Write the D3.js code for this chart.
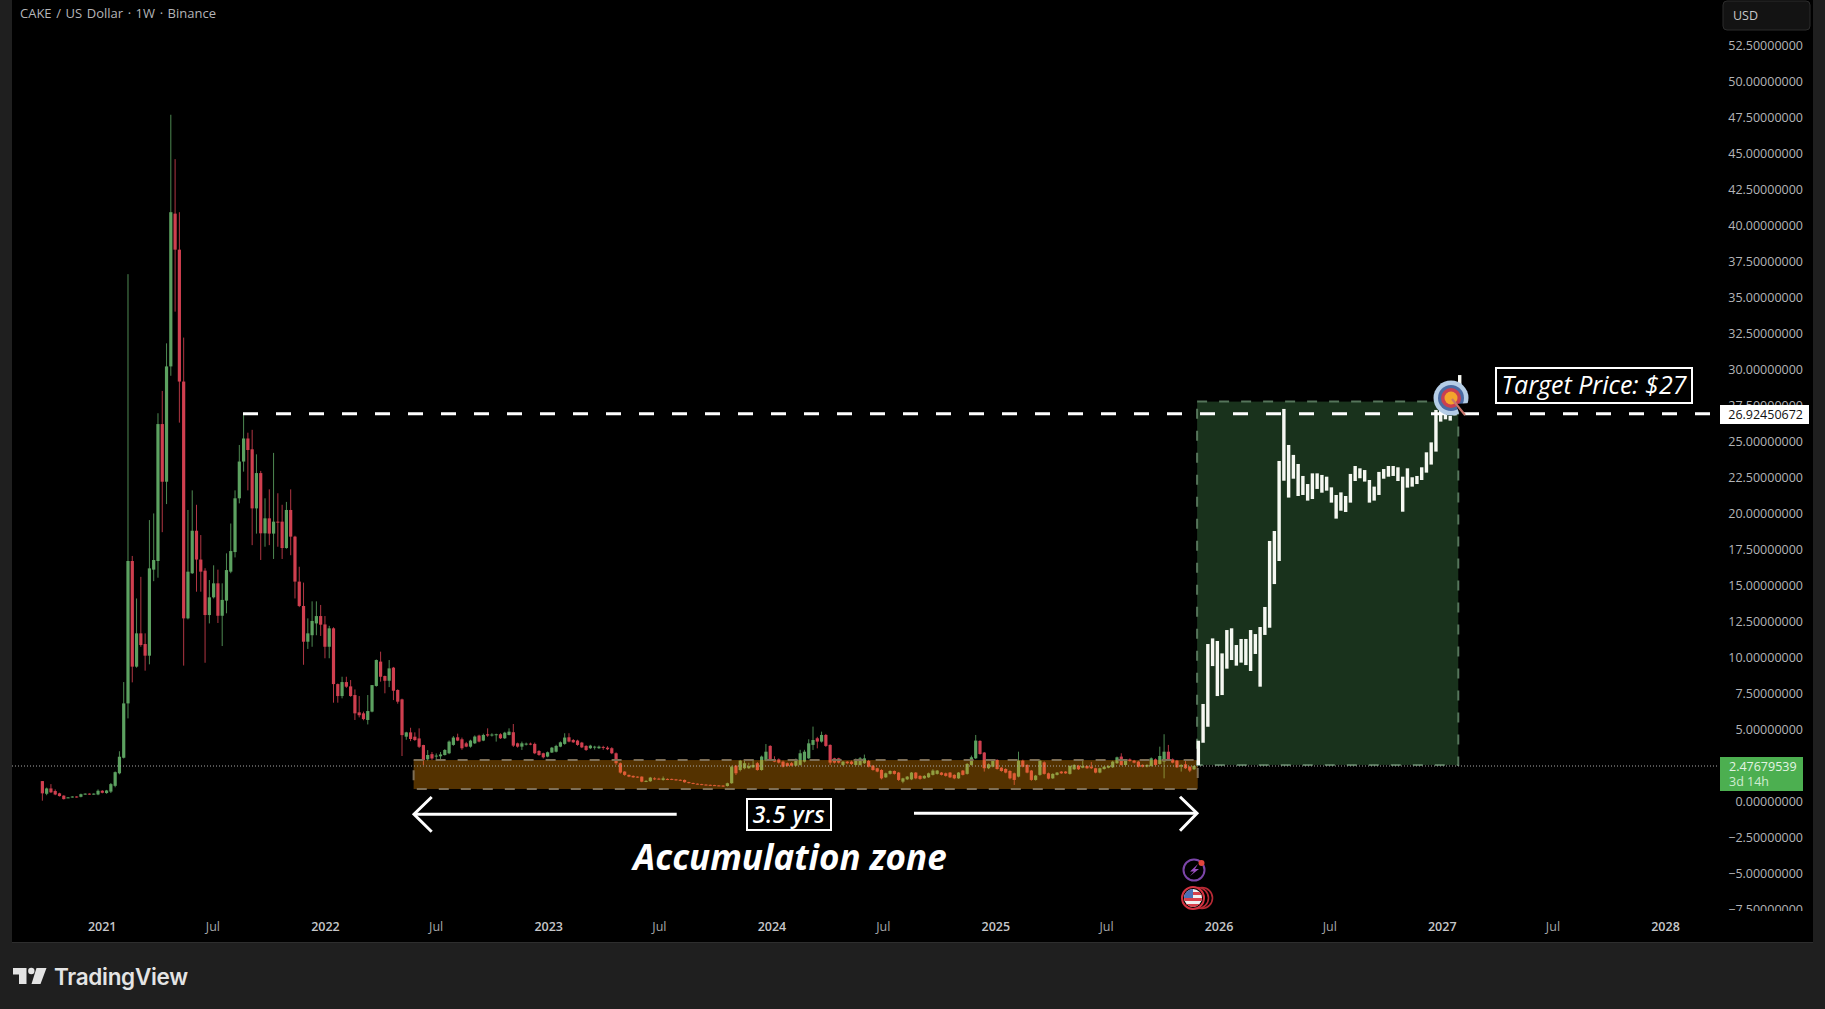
<!DOCTYPE html>
<html>
<head>
<meta charset="utf-8">
<script src="https://cdn.jsdelivr.net/npm/d3@7"></script>
<style>
  html, body { margin: 0; padding: 0; background: #1f1f1f; overflow: hidden; }
  text { font-family: "Open Sans", sans-serif; }
</style>
</head>
<body>
<div id="chart"></div>
<script>
// weekly candles from the first Binance week
const firstWeek = "2020-09-26";
const candleOpen = [
  1.43,.55,.92,.74,.58,.42,.28,.30,.36,.34,
  .50,.56,.50,.50,.76,.60,.70,1.10,1.97,3.05,
  6.82,16.70,9.37,11.68,10.94,10.13,16.10,16.70,26.20,22.20,
  30.20,40.80,38.30,29.15,12.72,15.85,18.80,16.80,16.03,12.95,
  14.18,15.15,12.90,13.95,15.96,17.32,21.05,23.60,25.20,24.45,
  20.35,22.80,18.62,19.66,18.60,19.43,19.43,17.60,20.24,18.39,
  15.27,13.58,11.10,11.55,12.37,12.88,12.30,10.75,12.03,8.16,
  7.33,8.30,8.00,7.40,6.20,6.13,5.67,6.25,8.03,9.72,
  8.72,8.39,9.30,7.75,7.10,4.51,4.81,4.51,4.39,3.93,
  2.94,3.30,3.13,3.15,3.24,3.36,3.94,4.47,4.33,4.05,
  3.82,4.05,4.59,4.24,4.68,4.59,4.61,4.68,4.40,4.63,
  4.82,4.05,3.82,3.98,4.03,4.01,3.52,3.36,3.13,3.41,
  3.47,3.82,4.01,4.47,4.28,4.24,4.10,3.87,3.71,3.78,
  3.71,3.80,3.75,3.71,3.36,2.67,2.09,1.86,1.79,1.74,
  1.74,1.39,1.42,1.62,1.60,1.51,1.58,1.58,1.55,1.52,
  1.51,1.36,1.30,1.25,1.22,1.19,1.17,1.15,1.13,1.12,
  1.09,1.28,2.50,2.20,2.32,2.32,2.39,2.67,2.20,2.85,
  3.87,2.94,2.94,2.78,2.67,2.67,2.50,2.55,2.78,3.01,
  3.94,4.40,4.17,4.63,3.94,3.01,3.01,2.55,2.78,2.78,
  2.55,2.55,2.67,2.83,2.50,2.32,2.20,1.69,1.93,2.13,
  2.02,1.39,1.55,1.55,2.02,1.79,1.62,1.69,1.86,1.93,
  2.02,1.97,2.02,1.86,1.62,2.16,1.93,2.55,3.01,4.22,
  3.41,2.32,2.43,2.90,2.36,2.27,2.13,1.97,1.74,2.85,
  2.55,2.16,1.51,1.86,2.73,1.97,1.62,1.86,2.09,2.09,
  1.93,2.25,2.50,2.36,2.48,2.43,2.32,2.02,2.27,2.36,
  2.39,2.67,3.13,2.55,2.94,2.85,2.78,2.55,2.43,2.48,
  2.94,2.62,2.78,3.47,2.94,2.85,2.43,2.60,2.43,2.25
];
const candleHigh = [
  1.43,.98,1.22,.85,.62,.45,.32,.38,.38,.56,
  .58,.58,.58,.85,.80,.82,1.30,2.10,3.50,8.30,
  36.60,17.05,14.10,15.60,11.68,19.54,20.00,26.95,28.50,31.80,
  47.66,44.58,40.90,32.20,20.24,21.60,20.60,18.50,16.20,15.38,
  16.40,16.10,15.15,17.23,19.30,21.60,24.75,26.95,25.60,25.80,
  24.10,22.95,21.05,21.67,24.20,21.40,20.60,20.80,21.67,18.45,
  16.30,15.20,12.72,13.90,13.90,13.65,12.88,12.20,12.10,8.20,
  8.67,8.67,8.44,7.79,7.33,6.25,7.40,8.09,9.87,10.41,
  8.75,9.83,9.35,7.80,7.15,4.85,5.13,4.81,5.09,3.95,
  3.58,3.45,3.35,3.45,3.65,4.25,4.55,4.72,4.45,4.15,
  4.30,4.60,4.65,4.72,5.09,4.75,4.72,4.75,4.85,5.09,
  5.39,4.10,4.17,4.10,4.10,4.10,3.58,3.40,3.48,3.80,
  3.95,4.18,4.75,4.75,4.35,4.30,4.15,3.92,3.95,3.88,
  3.90,3.88,3.85,3.78,3.42,2.72,2.12,1.88,1.82,1.76,
  1.76,1.50,1.72,1.70,1.66,1.75,1.62,1.60,1.58,1.55,
  1.54,1.38,1.32,1.27,1.24,1.21,1.19,1.17,1.15,1.14,
  1.32,2.50,2.55,2.90,2.95,2.70,2.95,2.75,3.20,4.00,
  3.92,3.15,3.00,2.85,2.72,2.75,3.00,3.60,3.60,4.33,
  5.21,4.50,4.86,4.70,3.98,3.05,3.05,2.82,2.82,2.85,
  3.00,3.10,3.27,2.90,2.55,2.36,2.25,2.02,2.18,2.17,
  2.06,1.66,1.78,2.06,2.06,1.84,1.84,2.02,2.25,2.20,
  2.06,2.02,2.06,1.90,2.06,2.20,2.68,3.20,4.63,4.26,
  3.45,2.66,2.96,2.95,2.40,2.32,2.18,2.02,3.47,2.92,
  2.60,2.20,1.86,2.92,2.80,2.02,1.97,2.06,2.13,2.13,
  2.52,2.60,2.55,2.94,2.52,2.76,2.36,2.36,2.47,2.52,
  2.84,3.13,3.36,2.96,3.00,2.90,2.84,2.60,2.60,3.07,
  3.00,3.82,4.68,3.94,3.00,2.90,2.60,2.85,2.48,2.52
];
const candleLow = [
  .07,.45,.60,.45,.36,.15,.25,.28,.28,.30,
  .48,.48,.48,.45,.58,.55,.60,1.00,1.90,3.00,
  5.78,8.28,9.30,10.75,9.09,9.53,15.30,15.54,18.70,20.65,
  29.55,34.00,26.30,9.44,12.65,15.80,14.57,14.57,9.64,12.37,
  14.10,12.40,10.80,13.07,15.85,16.95,20.70,22.90,21.60,17.80,
  18.60,16.77,17.69,17.80,16.84,17.69,16.84,17.55,17.10,14.10,
  13.50,9.50,10.60,10.75,11.55,11.50,9.95,9.95,6.87,6.87,
  7.17,7.90,7.28,5.67,5.85,5.65,5.36,6.20,7.98,8.33,
  7.52,7.95,7.05,6.80,3.17,4.30,4.20,4.22,3.72,2.54,
  2.85,2.90,2.95,2.90,3.20,3.30,3.88,4.20,3.60,3.78,
  3.75,4.00,4.12,4.20,4.50,4.52,4.17,4.35,4.35,4.60,
  3.80,3.75,3.59,3.90,3.92,3.30,3.18,3.00,3.08,3.38,
  3.42,3.78,3.95,4.12,4.08,3.88,3.72,3.52,3.65,3.62,
  3.66,3.60,3.58,3.30,2.55,1.95,1.80,1.70,1.66,1.66,
  1.35,1.36,1.38,1.50,1.52,1.46,1.50,1.50,1.46,1.44,
  1.32,1.27,1.22,1.19,1.15,1.13,1.12,1.10,1.08,1.02,
  1.05,1.24,1.85,2.10,2.25,2.28,2.33,2.15,2.15,2.80,
  2.85,2.74,2.65,2.38,2.42,2.45,2.45,2.50,2.72,2.95,
  3.59,3.70,4.10,3.80,2.55,2.65,2.65,2.48,2.60,2.55,
  2.50,2.50,2.62,2.38,2.15,2.04,1.55,1.65,1.88,1.88,
  1.44,1.28,1.50,1.50,1.56,1.52,1.58,1.65,1.82,1.88,
  1.82,1.74,1.64,1.56,1.58,1.82,1.88,2.50,2.96,3.26,
  2.09,2.26,2.38,2.22,2.08,1.97,1.55,1.16,1.69,2.38,
  1.97,1.45,1.46,1.80,1.88,1.55,1.58,1.82,1.93,1.93,
  1.88,2.20,2.20,2.32,2.28,2.27,1.97,1.97,2.22,2.32,
  2.34,2.62,2.50,2.50,2.78,2.66,2.38,2.38,2.38,2.43,
  2.50,2.57,1.62,2.85,2.66,2.34,2.09,2.27,2.05,2.20
];
const candleClose = [
  .58,.92,.65,.50,.39,.18,.30,.36,.30,.52,
  .56,.50,.56,.76,.62,.78,1.22,2.05,3.12,6.82,
  16.70,9.37,11.68,10.87,10.13,16.19,16.77,26.20,22.20,30.20,
  40.90,38.30,29.15,12.72,15.96,18.80,16.80,15.96,12.95,14.18,
  15.15,12.90,14.00,16.07,17.39,21.05,23.60,25.20,24.40,20.35,
  22.80,18.62,19.66,18.60,19.43,19.40,17.60,20.24,18.39,15.27,
  13.58,11.10,11.68,12.54,12.88,12.28,10.75,12.03,8.16,7.33,
  8.30,7.98,7.33,6.13,6.00,5.73,6.29,8.09,9.83,8.67,
  8.39,9.25,7.70,6.94,4.62,4.81,4.35,4.28,3.81,2.89,
  3.24,3.00,3.20,3.28,3.59,4.17,4.45,4.24,3.71,3.82,
  4.24,4.52,4.17,4.63,4.59,4.66,4.68,4.40,4.79,4.86,
  3.89,3.82,4.05,4.03,3.98,3.36,3.24,3.08,3.43,3.75,
  3.87,4.12,4.45,4.17,4.12,3.94,3.77,3.59,3.89,3.82,
  3.82,3.76,3.64,3.36,2.67,2.02,1.86,1.74,1.69,1.69,
  1.39,1.44,1.67,1.55,1.56,1.62,1.54,1.53,1.51,1.47,
  1.35,1.30,1.25,1.22,1.18,1.16,1.14,1.12,1.10,1.07,
  1.28,2.43,1.97,2.85,2.67,2.48,2.55,2.20,3.13,3.47,
  2.90,2.78,2.71,2.43,2.48,2.50,2.90,3.36,3.47,4.05,
  4.28,4.17,4.63,3.87,2.71,2.71,2.71,2.78,2.67,2.62,
  2.96,3.01,3.01,2.43,2.20,2.09,1.62,1.97,2.13,1.93,
  1.51,1.62,1.74,2.02,1.62,1.58,1.79,1.97,2.16,2.16,
  1.86,1.79,1.69,1.62,2.02,1.86,2.62,3.08,4.24,3.31,
  2.32,2.60,2.90,2.27,2.13,2.02,1.62,1.51,2.85,2.43,
  2.02,1.51,1.81,2.85,1.93,1.60,1.93,2.02,1.97,1.97,
  2.48,2.55,2.25,2.48,2.32,2.32,2.02,2.32,2.43,2.48,
  2.78,3.08,2.55,2.90,2.83,2.71,2.43,2.43,2.55,3.01,
  2.55,3.17,3.47,2.90,2.71,2.39,2.55,2.32,2.16,2.48
];

// white projected bars, one high / low per bar
const projectionStart = "2025-11-29";
const projectionStepDays = 7.77;
const projectionHigh = [
  4.23,6.78,10.94,11.33,11.15,10.29,11.91,12.03,10.87,11.29,
  11.29,11.91,11.63,12.12,13.51,18.09,18.78,23.64,27.25,24.75,
  24.06,23.43,22.60,22.04,22.78,22.78,22.67,22.55,21.81,21.28,
  21.46,21.21,22.74,23.29,23.13,23.01,22.32,21.86,22.88,23.08,
  23.29,23.29,23.20,22.55,23.13,22.51,22.60,23.20,24.24,24.93,
  27.18,27.18,26.83,26.76,27.40,29.60
];
const projectionLow = [
  2.54,4.09,5.20,9.41,7.33,7.40,9.23,9.83,9.44,9.65,
  9.48,9.07,10.25,7.98,11.57,12.07,15.10,16.70,22.27,21.10,
  22.41,21.21,21.28,20.89,21.00,21.70,21.44,21.58,20.75,19.64,
  20.19,20.10,20.75,22.25,22.44,22.21,20.75,20.89,21.28,22.41,
  22.55,22.60,22.25,20.12,21.79,21.86,22.04,22.32,22.83,23.39,
  24.29,26.37,26.53,26.44,26.80,28.00
];

const priceTicks = [52.5,50,47.5,45,42.5,40,37.5,35,32.5,30,27.5,25,22.5,20,17.5,15,12.5,10,7.5,5,0,-2.5,-5,-7.5];
const timeTicks = ["2021-01-01","2021-07-01","2022-01-01","2022-07-01","2023-01-01","2023-07-01","2024-01-01","2024-07-01","2025-01-01","2025-07-01","2026-01-01","2026-07-01","2027-01-01","2027-07-01","2028-01-01"];

const targetPrice = 26.92450672;
const lastPrice = 2.47679539;
const zoneAccumulation = {start: "2022-05-26", end: "2025-11-28", top: 2.89, bottom: 0.88};
const zoneProjection = {start: "2025-11-27", end: "2027-01-28", top: 27.76, bottom: 2.55};

const width = 1825, height = 1009;
const chartLeft = 12, chartRight = 1813, chartBottom = 942;
const greenCol = "#5ca160", redCol = "#cf3f4f";

const parseDay = d3.utcParse("%Y-%m-%d");
const x = d3.scaleUtc()
  .domain([parseDay("2021-01-01"), parseDay("2028-01-01")])
  .range([101.7, 1665]);
const y = d3.scaleLinear()
  .domain([0, 52.5])
  .range([801.7, 45]);

const weekX = i => x(d3.utcDay.offset(parseDay(firstWeek), i * 7));
const projX = i => x(new Date(parseDay(projectionStart).getTime() + i * projectionStepDays * 864e5));

const svg = d3.select("#chart").append("svg")
  .attr("width", width)
  .attr("height", height)
  .style("display", "block");

svg.append("defs").append("clipPath").attr("id", "flag-clip")
  .append("circle").attr("cx", 1193).attr("cy", 898).attr("r", 9);

// page frame + pane
svg.append("rect").attr("width", width).attr("height", height).attr("fill", "#1f1f1f");
svg.append("rect")
  .attr("x", chartLeft).attr("y", 0)
  .attr("width", chartRight - chartLeft).attr("height", chartBottom)
  .attr("fill", "#000");
svg.append("line")
  .attr("x1", chartLeft).attr("x2", chartRight).attr("y1", chartBottom + .5).attr("y2", chartBottom + .5)
  .attr("stroke", "#2e2e2e");

// candles
const candles = d3.range(candleOpen.length);
const isUp = i => candleClose[i] >= candleOpen[i];
const candleG = svg.append("g");
candleG.selectAll("line").data(candles).join("line")
  .attr("x1", i => weekX(i)).attr("x2", i => weekX(i))
  .attr("y1", i => y(candleHigh[i])).attr("y2", i => y(candleLow[i]))
  .attr("stroke", i => isUp(i) ? greenCol : redCol)
  .attr("stroke-opacity", .85)
  .attr("stroke-width", 1);
candleG.selectAll("rect").data(candles).join("rect")
  .attr("x", i => weekX(i) - 1.6)
  .attr("width", 3.2)
  .attr("y", i => y(Math.max(candleOpen[i], candleClose[i])))
  .attr("height", i => Math.max(1, y(Math.min(candleOpen[i], candleClose[i])) - y(Math.max(candleOpen[i], candleClose[i]))))
  .attr("fill", i => isUp(i) ? greenCol : redCol);

// zones
function drawZone(zone, fill, opacity, borderCol) {
  svg.append("rect")
    .attr("x", x(parseDay(zone.start)))
    .attr("y", y(zone.top))
    .attr("width", x(parseDay(zone.end)) - x(parseDay(zone.start)))
    .attr("height", y(zone.bottom) - y(zone.top))
    .attr("fill", fill)
    .attr("fill-opacity", opacity)
    .attr("stroke", borderCol)
    .attr("stroke-width", 2)
    .attr("stroke-dasharray", "10 12");
}
drawZone(zoneAccumulation, "#ff9800", .33, "#7d6e56");
drawZone(zoneProjection, "#19321c", 1, "#55755a");

// last price line
svg.append("line")
  .attr("x1", chartLeft).attr("x2", 1718)
  .attr("y1", y(lastPrice)).attr("y2", y(lastPrice))
  .attr("stroke", "#a8a8a8")
  .attr("stroke-width", 1)
  .attr("stroke-dasharray", "1 2");

// projected bars
svg.append("g").selectAll("rect").data(d3.range(projectionHigh.length)).join("rect")
  .attr("x", i => projX(i) - 1.7)
  .attr("width", 3.4)
  .attr("y", i => y(projectionHigh[i]))
  .attr("height", i => y(projectionLow[i]) - y(projectionHigh[i]))
  .attr("fill", "#f6f8f2");

// target line
svg.append("line")
  .attr("x1", 243).attr("x2", 1712)
  .attr("y1", y(targetPrice)).attr("y2", y(targetPrice))
  .attr("stroke", "#fff")
  .attr("stroke-width", 3)
  .attr("stroke-dasharray", "15 18");

// axes
const yAxis = svg.append("g")
  .attr("transform", "translate(1803,0)")
  .call(d3.axisLeft(y).tickValues(priceTicks).tickSize(0).tickPadding(0)
    .tickFormat(d => (d < 0 ? "\u2212" : "") + Math.abs(d).toFixed(8)));
yAxis.select(".domain").remove();
yAxis.selectAll("text")
  .attr("fill", "#b4b5b8")
  .style("font-size", "12.5px")
  .style("font-family", "'Open Sans', sans-serif");

// hides the lower part of the last tick, the pane footer starts below it
svg.append("rect").attr("x", 1700).attr("y", 911).attr("width", 112).attr("height", 30).attr("fill", "#000");

const xAxis = svg.append("g")
  .attr("transform", "translate(0,922)")
  .call(d3.axisBottom(x).tickValues(timeTicks.map(parseDay)).tickSize(0).tickPadding(0)
    .tickFormat(d => d.getUTCMonth() === 0 ? d3.utcFormat("%Y")(d) : "Jul"));
xAxis.select(".domain").remove();
xAxis.selectAll("text")
  .attr("dy", ".71em")
  .attr("fill", d => d.getUTCMonth() === 0 ? "#c6c7ca" : "#a6a7aa")
  .style("font-size", "12.5px")
  .style("font-weight", d => d.getUTCMonth() === 0 ? 600 : 400)
  .style("font-family", "'Open Sans', sans-serif");

// header text
svg.append("text").attr("x", 20).attr("y", 18)
  .attr("fill", "#b4b5b8").style("font-size", "13px").style("word-spacing", "1.2px")
  .text("CAKE / US Dollar \u00b7 1W \u00b7 Binance");

svg.append("rect")
  .attr("x", 1723).attr("y", 1).attr("width", 87).attr("height", 29).attr("rx", 4)
  .attr("fill", "#131313").attr("stroke", "#2c2c2c");
svg.append("text").attr("x", 1733).attr("y", 20)
  .attr("fill", "#c8c8c8").style("font-size", "12.5px").text("USD");

// price labels
svg.append("rect").attr("x", 1720).attr("y", 405).attr("width", 89).attr("height", 19).attr("fill", "#fff");
svg.append("text").attr("x", 1803).attr("y", 419).attr("text-anchor", "end")
  .attr("fill", "#111").style("font-size", "12.5px").text(targetPrice.toFixed(8));

svg.append("rect").attr("x", 1720).attr("y", 757).attr("width", 83).attr("height", 34).attr("fill", "#4caf50");
svg.append("text").attr("x", 1729).attr("y", 771)
  .attr("fill", "#e4f4e4").style("font-size", "12.5px").text(lastPrice.toFixed(8));
svg.append("text").attr("x", 1729).attr("y", 786)
  .attr("fill", "#d0ecd0").style("font-size", "12.5px").text("3d 14h");

// annotations
function labelBox(bx, by, bw, bh) {
  svg.append("rect").attr("x", bx).attr("y", by).attr("width", bw).attr("height", bh)
    .attr("fill", "#000").attr("stroke", "#fff").attr("stroke-width", 2);
}
labelBox(1496, 368, 196, 35);
svg.append("text").attr("x", 1594).attr("y", 394).attr("text-anchor", "middle")
  .attr("fill", "#fff").style("font-size", "25px").style("font-style", "italic").style("font-weight", 500)
  .text("Target Price: $27");

labelBox(747, 799, 84, 31);
svg.append("text").attr("x", 789).attr("y", 823).attr("text-anchor", "middle")
  .attr("fill", "#fff").style("font-size", "23px").style("font-style", "italic").style("font-weight", 600)
  .style("letter-spacing", ".6px")
  .text("3.5 yrs");

svg.append("text").attr("x", 790).attr("y", 870).attr("text-anchor", "middle")
  .attr("fill", "#fff").style("font-size", "35px").style("font-style", "italic").style("font-weight", 700)
  .text("Accumulation zone");

// arrows
const arrowPath = d3.line();
const arrows = [
  [[676.7, 814.3], [414, 814.3]],
  [[431.7, 797], [414, 814.3], [431.7, 831.7]],
  [[914, 813.3], [1197, 813.3]],
  [[1180, 796.7], [1197, 813.3], [1180, 830.7]]
];
svg.append("g").selectAll("path").data(arrows).join("path")
  .attr("d", arrowPath)
  .attr("fill", "none").attr("stroke", "#fff").attr("stroke-width", 3);

// target icon
const icon = svg.append("g").attr("transform", "translate(1451,398)");
icon.append("circle").attr("r", 17.5).attr("fill", "#b5cde6");
icon.append("circle").attr("r", 13).attr("fill", "#4a6ba3");
icon.append("circle").attr("r", 10).attr("fill", "#c93f52");
icon.append("circle").attr("r", 6.5).attr("fill", "#f4a52c");
icon.append("path").attr("d", "M5,6 L19,5 L9,18 Z").attr("fill", "#000");
icon.append("line").attr("x1", 1).attr("y1", 1).attr("x2", 14).attr("y2", 17)
  .attr("stroke", "#c8766c").attr("stroke-width", 2.2);

// event icons under the candles
svg.append("circle").attr("cx", 1194).attr("cy", 870).attr("r", 10.5)
  .attr("fill", "#000").attr("stroke", "#7b45a8").attr("stroke-width", 2);
svg.append("path").attr("d", "M1198,864 L1190,871.5 L1194,871.5 L1190,876 L1199,869 L1195,869 Z").attr("fill", "#9a4fc0");
svg.append("circle").attr("cx", 1201.5).attr("cy", 863).attr("r", 3).attr("fill", "#e2453c");

[1202, 1198].forEach(cx => {
  svg.append("circle").attr("cx", cx).attr("cy", 898).attr("r", 10.5)
    .attr("fill", "#000").attr("stroke", "#b82a35").attr("stroke-width", 1.6);
});
svg.append("circle").attr("cx", 1193).attr("cy", 898).attr("r", 11)
  .attr("fill", "#000").attr("stroke", "#d33340").attr("stroke-width", 2);
const flag = svg.append("g").attr("clip-path", "url(#flag-clip)");
flag.append("rect").attr("x", 1184).attr("y", 889).attr("width", 18).attr("height", 18).attr("fill", "#f0f0f0");
[892, 898, 904].forEach(sy => {
  flag.append("rect").attr("x", 1184).attr("y", sy).attr("width", 18).attr("height", 3).attr("fill", "#d8404a");
});
flag.append("rect").attr("x", 1184).attr("y", 889).attr("width", 9).attr("height", 9).attr("fill", "#4a6fb5");

// footer logo
const logo = svg.append("g").attr("fill", "#e4e4e4");
logo.append("path").attr("d", "M13,968 H26.5 V984 H19 V974.5 H13 Z");
logo.append("circle").attr("cx", 31.3).attr("cy", 971).attr("r", 3.2);
logo.append("path").attr("d", "M36.5,968 H46.5 L40.5,984 H31.5 Z");
svg.append("text").attr("x", 54).attr("y", 985)
  .attr("fill", "#e4e4e4")
  .style("font-family", "Inter, sans-serif")
  .style("font-size", "22.5px").style("font-weight", 600).style("letter-spacing", "-.3px")
  .text("TradingView");
</script>
</body>
</html>
